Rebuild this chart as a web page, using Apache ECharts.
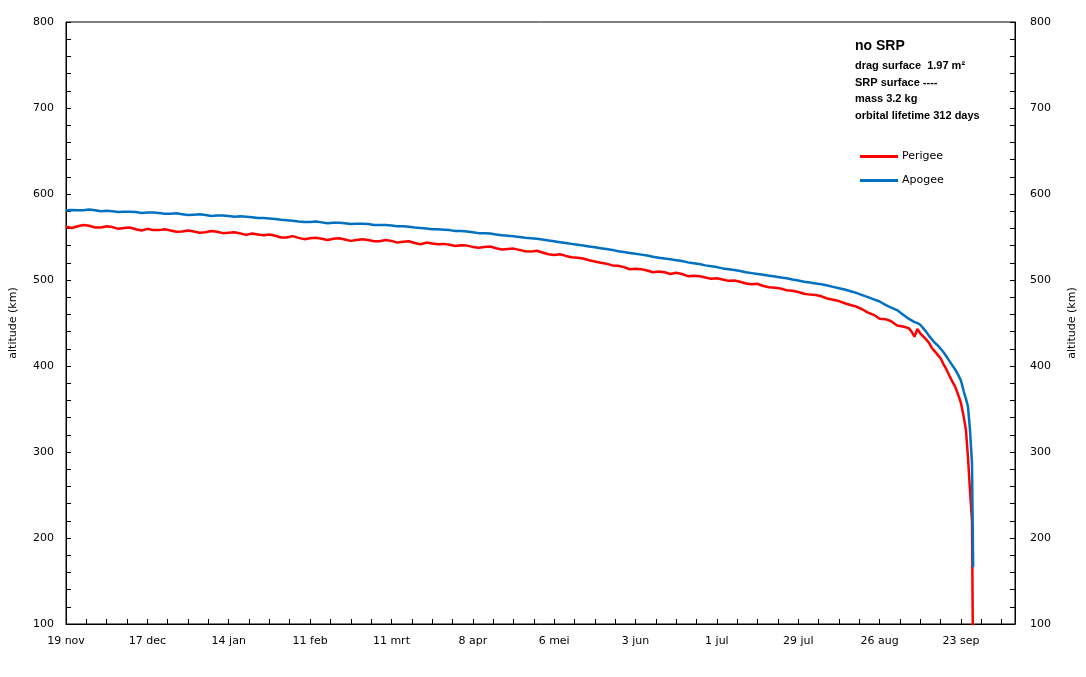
<!DOCTYPE html>
<html>
<head>
<meta charset="utf-8">
<script src="https://cdn.jsdelivr.net/npm/echarts@6/dist/echarts.min.js"></script>
<style>
html,body{margin:0;padding:0;background:#fff;}
#chart{width:1086px;height:677px;}
</style>
</head>
<body>
<div id="chart"></div>
<script>
// days since 19 nov
const days = [
  0,2,4,6,8,10,12,14,16,18,
  20,22,24,26,28,30,32,34,36,38,
  40,42,44,46,48,50,52,54,56,58,
  60,62,64,66,68,70,72,74,76,78,
  80,82,84,86,88,90,92,94,96,98,
  100,102,104,106,108,110,112,114,116,118,
  120,122,124,126,128,130,132,134,136,138,
  140,142,144,146,148,150,152,154,156,158,
  160,162,164,166,168,170,172,174,176,178,
  180,182,184,186,188,190,192,194,196,198,
  200,202,204,206,208,210,212,214,216,218,
  220,222,224,226,228,230,232,234,236,238,
  240,242,244,246,248,250,252,254,256,258,
  260,262,264,266,268,270,272,274,276,278,
  280,
  282,284,286,288,290,291,292,293,294,296,297,298,299,300,301,302,303,304,305,306,307,308,309,309.7,310.4,311.1,311.8,312.2];
const perigee = [
  562,560.5,562.5,564,563,561,561,562.5,561.5,559.5,
  560.5,561,559,557.5,559.5,558,558,559,557.5,556,
  556.5,557.5,556.5,555,555.5,557,556,554.5,555,555.5,
  554,552.5,554,553,552,553,551.5,549.5,549.5,551,
  549,547.5,548.5,549,548,546.5,548,548.5,547,545.5,
  546.5,547.5,546.5,545,545,546.5,545.5,543.5,544.5,545,
  543,541.5,543.5,542.5,541.5,542,541,539.5,540.5,540,
  538.5,537.5,538.5,539,537,535.5,536,536.5,535,533.5,
  533,534,532,530,529,530,528,526.5,526,525,
  523,521.5,520,519,517,516.5,515,512.5,513,512.5,
  511,509,510,509,507,508.5,507,504.5,505,504.5,
  503,501.5,502,500.5,499,499.5,498,496,495,495.5,
  493,491.5,491,490,488,487.5,486,484,483,482.5,
  481,478.5,477,475.5,473,471,469,466,462,459.5,
  455,
  454.5,452,447,446,444,440,434,443,438,431,427,421,417,413,409,402,396,389,382,376,367,357,340,326,295,256,220,40];
const apogee = [
  581,581.5,581,581,582,581,580,580.5,580,579,
  579.5,579.5,579,578,578.5,578.5,578,577,577,577.5,
  576.5,575.5,576,576.5,575.5,574.5,575,575,574.5,573.5,
  574,573.5,573,572,572,571.5,571,570,569.5,569,
  568,567.5,567.5,568,567,566,566.5,566.5,566,565,
  565.5,565.5,565,564,564,564,563.5,562.5,562.5,562,
  561,560.5,560,559,559,558.5,558,557,557,556.5,
  555.5,554.5,554.5,554,553,552,551.5,551,550,549,
  548.5,548,547,546,545,544,543,542,541,540,
  539,538,537,536,535,533.5,532.5,531.5,530.5,529.5,
  528.5,527,526,525,524,523,522,520.5,519.5,518.5,
  517,516,515,513.5,512.5,511.5,510.5,509,508,507,
  506,505,504,503,502,500.5,499.5,498,497,496,
  495,493.5,492,490.5,489,487,485,482.5,480,477.5,
  475,
  471,468,465,460,455,453,451,450,448,440,435,431,427,424,420,416,411,406,401,396,390,383,370,362,353,326,287,166];
const tickLabels = ['19 nov','17 dec','14 jan','11 feb','11 mrt','8 apr','6 mei','3 jun','1 jul','29 jul','26 aug','23 sep'];
const infoLines = ['drag surface  1.97 m\u00B2','SRP surface ----','mass 3.2 kg','orbital lifetime 312 days'];

const chart = echarts.init(document.getElementById('chart'));
const FONT = 'DejaVu Sans';
const yAxisCommon = {
  type:'value', min:100, max:800, interval:100,
  name:'altitude (km)', nameLocation:'middle', nameRotate:90,
  nameTextStyle:{fontFamily:FONT, fontSize:11, color:'#000'},
  axisLine:{show:true, lineStyle:{color:'#000', width:1}},
  axisTick:{show:true, inside:true, length:5, lineStyle:{color:'#000'}},
  minorTick:{show:true, splitNumber:5, length:5, lineStyle:{color:'#000'}},
  splitLine:{show:false},
  axisLabel:{fontFamily:FONT, fontSize:11, color:'#000'}
};
chart.setOption({
  animation:false,
  backgroundColor:'#fff',
  grid:{left:64, right:71, top:22, bottom:53, show:true, borderColor:'#000', borderWidth:1},
  xAxis:{
    type:'value', min:0, max:326.6, interval:28,
    axisLine:{show:true, lineStyle:{color:'#000', width:1}},
    axisTick:{show:true, inside:true, length:5, lineStyle:{color:'#000'}},
    minorTick:{show:true, splitNumber:4, length:5, lineStyle:{color:'#000'}},
    splitLine:{show:false},
    axisLabel:{fontFamily:FONT, fontSize:11, color:'#000', margin:12, showMaxLabel:false,
      formatter:function(v){ const i=Math.round(v/28); return (Math.abs(v-i*28)<1e-6 && tickLabels[i]) ? tickLabels[i] : ''; }}
  },
  yAxis:[
    Object.assign({}, yAxisCommon, {position:'left', nameGap:47, axisLabel:Object.assign({}, yAxisCommon.axisLabel, {margin:12})}),
    Object.assign({}, yAxisCommon, {position:'right', nameGap:52, axisLabel:Object.assign({}, yAxisCommon.axisLabel, {margin:15})})
  ],
  legend:{
    orient:'vertical', left:855, top:146, itemWidth:38, itemHeight:3, itemGap:13,
    icon:'rect',
    textStyle:{fontFamily:FONT, fontSize:11, color:'#000', padding:[0,0,0,-1]},
    data:['Perigee','Apogee']
  },
  graphic:[
    {type:'text', left:855, top:39, style:{text:'no SRP', fontFamily:'Liberation Sans', fontWeight:'bold', fontSize:14, fill:'#000'}},
    {type:'text', left:855, top:58, style:{text:infoLines.join('\n'), fontFamily:'Liberation Sans', fontWeight:'bold', fontSize:11, lineHeight:16.5, fill:'#000'}}
  ],
  series:[
    {name:'Perigee', type:'line', showSymbol:false, symbol:'none', clip:true, z:2,
      lineStyle:{color:'#FF0000', width:2.5}, itemStyle:{color:'#FF0000'},
      data:days.map((d,i)=>[d, perigee[i]])},
    {name:'Apogee', type:'line', showSymbol:false, symbol:'none', clip:true, z:3,
      lineStyle:{color:'#0070C0', width:2.5}, itemStyle:{color:'#0070C0'},
      data:days.map((d,i)=>[d, apogee[i]])}
  ]
});
</script>
</body>
</html>
